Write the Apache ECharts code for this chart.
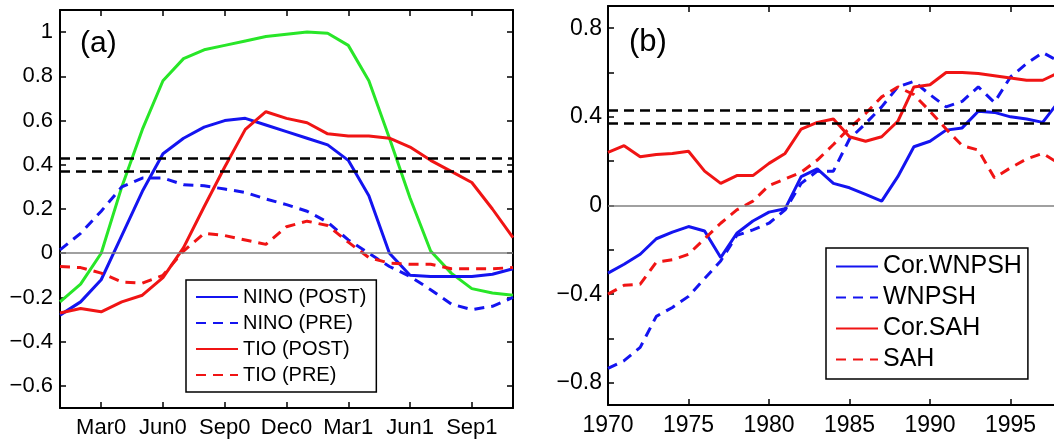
<!DOCTYPE html>
<html>
<head>
<meta charset="UTF-8">
<title>Lead-lag correlation</title>
<script src="https://cdn.jsdelivr.net/npm/echarts@6/dist/echarts.min.js"></script>
<style>
    html,body{margin:0;padding:0;background:#fff;}
    #chart{width:1054px;height:439px;}
</style>
</head>
<body>
<div id="chart"></div>
<script>
// panel (a): monthly lead-lag correlations
var months = ['Jan0','Feb0','Mar0','Apr0','May0','Jun0','Jul0','Aug0','Sep0','Oct0','Nov0','Dec0',
              'Jan1','Feb1','Mar1','Apr1','May1','Jun1','Jul1','Aug1','Sep1','Oct1','Nov1'];
var monthTicks = ['Mar0','Jun0','Sep0','Dec0','Mar1','Jun1','Sep1'];

var ensoAuto  = [-0.22,-0.14,0.0,0.30,0.56,0.78,0.88,0.92,0.94,0.96,0.98,0.99,1.0,0.995,0.94,0.78,0.52,0.25,0.01,-0.09,-0.16,-0.18,-0.19];
var ninoPost  = [-0.28,-0.22,-0.12,0.08,0.28,0.45,0.52,0.57,0.60,0.61,0.58,0.55,0.52,0.49,0.42,0.26,0.0,-0.1,-0.105,-0.105,-0.105,-0.095,-0.07];
var ninoPre   = [0.015,0.09,0.19,0.30,0.34,0.34,0.31,0.305,0.29,0.275,0.245,0.22,0.19,0.14,0.06,0.0,-0.06,-0.105,-0.165,-0.23,-0.255,-0.24,-0.2];
var tioPost   = [-0.27,-0.25,-0.265,-0.22,-0.19,-0.11,0.025,0.21,0.39,0.56,0.64,0.61,0.59,0.54,0.53,0.53,0.52,0.48,0.42,0.37,0.32,0.2,0.07];
var tioPre    = [-0.06,-0.065,-0.09,-0.13,-0.135,-0.1,0.01,0.09,0.08,0.06,0.04,0.12,0.145,0.125,0.05,-0.02,-0.045,-0.05,-0.05,-0.07,-0.07,-0.07,-0.065];

// panel (b): running correlations by year
var years     = [1970,1971,1972,1973,1974,1975,1976,1977,1978,1979,1980,1981,1982,1983,1984,
                 1985,1986,1987,1988,1989,1990,1991,1992,1993,1994,1995,1996,1997,1998];
var corWnpsh  = [-0.305,-0.265,-0.22,-0.15,-0.12,-0.095,-0.115,-0.235,-0.125,-0.07,-0.03,-0.015,0.13,0.165,0.1,
                 0.08,0.05,0.02,0.13,0.265,0.29,0.34,0.35,0.425,0.42,0.40,0.39,0.375,0.47];
var wnpsh     = [-0.735,-0.70,-0.64,-0.50,-0.46,-0.41,-0.33,-0.25,-0.135,-0.11,-0.08,-0.02,0.10,0.155,0.155,
                 0.30,0.37,0.445,0.535,0.56,0.50,0.445,0.47,0.535,0.465,0.58,0.64,0.69,0.65];
var corSah    = [0.24,0.27,0.22,0.23,0.235,0.245,0.155,0.10,0.135,0.135,0.19,0.235,0.345,0.375,0.39,
                 0.31,0.29,0.31,0.38,0.535,0.545,0.6,0.6,0.595,0.585,0.575,0.565,0.565,0.6];
var sah       = [-0.40,-0.36,-0.355,-0.255,-0.245,-0.22,-0.15,-0.08,-0.02,0.02,0.09,0.12,0.15,0.205,0.275,
                 0.35,0.415,0.49,0.535,0.50,0.425,0.345,0.27,0.25,0.125,0.17,0.21,0.235,0.19];

var sigLevels = [0.43, 0.37];
var yTicksA   = [-0.6,-0.4,-0.2,0,0.2,0.4,0.6,0.8,1];
var yTicksB   = [-0.8,-0.6,-0.4,-0.2,0,0.2,0.4,0.6,0.8];
var yLabelsB  = [-0.8,-0.4,0,0.4,0.8];

var FONT = 'Liberation Sans, Arial, Helvetica, sans-serif';
var BLUE = '#1414f0', RED = '#f01414', GREEN = '#28e628';

function minus(v){ return String(v).replace('-', '\u2212'); }
function pairs(xs, ys){ return xs.map(function(x, i){ return [x, ys[i]]; }); }

var tick = {show:true, inside:true, length:6, lineStyle:{color:'#000', width:1.5}};
var line = {show:true, onZero:false, lineStyle:{color:'#000', width:2}};

var refLines = {
    silent: true,
    symbol: 'none',
    label: {show:false},
    data: [
        {yAxis: 0, lineStyle:{color:'#808080', type:'solid', width:1.5}},
        {yAxis: sigLevels[0], lineStyle:{color:'#000', type:[10,6], width:2.5}},
        {yAxis: sigLevels[1], lineStyle:{color:'#000', type:[10,6], width:2.5}}
    ]
};

function lineSeries(name, data, color, dashed, xi, yi, extra){
    var s = {
        name: name, type: 'line', data: data,
        xAxisIndex: xi, yAxisIndex: yi,
        symbol: 'none', showSymbol: false, smooth: false,
        lineStyle: {color: color, width: 3, type: dashed ? [10,7] : 'solid'},
        itemStyle: {color: color},
        z: 3
    };
    if (extra) s.markLine = extra;
    return s;
}

function showMonth(i, v){ return monthTicks.indexOf(v) >= 0; }

var chart = echarts.init(document.getElementById('chart'));
var option = {
    animation: false,
    backgroundColor: '#fff',
    textStyle: {fontFamily: FONT, color: '#000'},
    title: [
        {text:'(a)', left:75, top:24, textStyle:{fontSize:30, fontWeight:'normal', fontFamily:FONT, color:'#000'}},
        {text:'(b)', left:624, top:22, textStyle:{fontSize:31, fontWeight:'normal', fontFamily:FONT, color:'#000'}}
    ],
    legend: [
        {
            data: ['NINO (POST)','NINO (PRE)','TIO (POST)','TIO (PRE)'],
            orient: 'vertical', left: 186, top: 280,
            padding: [7,10,7,9], itemGap: 6, itemWidth: 42, itemHeight: 14,
            backgroundColor: '#fff', borderColor: '#000', borderWidth: 1.5,
            itemStyle: {opacity: 0},
            textStyle: {fontSize: 20, color: '#000', fontFamily: FONT}
        },
        {
            data: ['Cor.WNPSH','WNPSH','Cor.SAH','SAH'],
            orient: 'vertical', left: 826, top: 248,
            padding: [6,6,7,9], itemGap: 6, itemWidth: 42, itemHeight: 14,
            backgroundColor: '#fff', borderColor: '#000', borderWidth: 1.5,
            itemStyle: {opacity: 0},
            textStyle: {fontSize: 25, color: '#000', fontFamily: FONT}
        }
    ],
    grid: [
        {left: 60, top: 10, width: 453, height: 398, outerBoundsMode: 'none'},
        {left: 608, top: 6, width: 483, height: 399, outerBoundsMode: 'none'}
    ],
    xAxis: [
        {
            gridIndex: 0, type: 'category', data: months, boundaryGap: false,
            axisLine: line,
            axisTick: {show:true, inside:true, length:6, interval: showMonth, lineStyle:{color:'#000', width:1.5}},
            axisLabel: {interval: showMonth, fontSize: 22, color: '#000', margin: 9, fontFamily: FONT},
            splitLine: {show:false}
        },
        {
            gridIndex: 0, type: 'category', data: months, boundaryGap: false, position: 'top',
            axisLine: line,
            axisTick: {show:true, inside:true, length:6, interval: showMonth, lineStyle:{color:'#000', width:1.5}},
            axisLabel: {show:false},
            splitLine: {show:false}
        },
        {
            gridIndex: 1, type: 'value', min: 1970, max: 2000, interval: 5,
            axisLine: line, axisTick: tick,
            axisLabel: {fontSize: 23, color: '#000', margin: 9, fontFamily: FONT, formatter: function(v){ return String(v); }},
            splitLine: {show:false}
        },
        {
            gridIndex: 1, type: 'value', min: 1970, max: 2000, interval: 5, position: 'top',
            axisLine: line, axisTick: tick, axisLabel: {show:false}, splitLine: {show:false}
        }
    ],
    yAxis: [
        {
            gridIndex: 0, type: 'value', min: -0.7, max: 1.1,
            axisLine: line,
            axisTick: {show:true, inside:true, length:6, customValues: yTicksA, lineStyle:{color:'#000', width:1.5}},
            axisLabel: {customValues: yTicksA, fontSize: 22, color: '#000', margin: 7, fontFamily: FONT, formatter: minus},
            splitLine: {show:false}
        },
        {
            gridIndex: 0, type: 'value', min: -0.7, max: 1.1, position: 'right',
            axisLine: line,
            axisTick: {show:true, inside:true, length:6, customValues: yTicksA, lineStyle:{color:'#000', width:1.5}},
            axisLabel: {show:false}, splitLine: {show:false}
        },
        {
            gridIndex: 1, type: 'value', min: -0.9, max: 0.9,
            axisLine: line,
            axisTick: {show:true, inside:true, length:6, customValues: yTicksB, lineStyle:{color:'#000', width:1.5}},
            axisLabel: {customValues: yLabelsB, fontSize: 23, color: '#000', margin: 6, fontFamily: FONT, formatter: minus},
            splitLine: {show:false}
        }
    ],
    series: [
        lineSeries('ENSO', ensoAuto, GREEN, false, 0, 0, refLines),
        lineSeries('NINO (POST)', ninoPost, BLUE, false, 0, 0),
        lineSeries('NINO (PRE)', ninoPre, BLUE, true, 0, 0),
        lineSeries('TIO (POST)', tioPost, RED, false, 0, 0),
        lineSeries('TIO (PRE)', tioPre, RED, true, 0, 0),
        lineSeries('Cor.WNPSH', pairs(years, corWnpsh), BLUE, false, 2, 2, refLines),
        lineSeries('WNPSH', pairs(years, wnpsh), BLUE, true, 2, 2),
        lineSeries('Cor.SAH', pairs(years, corSah), RED, false, 2, 2),
        lineSeries('SAH', pairs(years, sah), RED, true, 2, 2)
    ]
};
chart.setOption(option);
</script>
</body>
</html>
